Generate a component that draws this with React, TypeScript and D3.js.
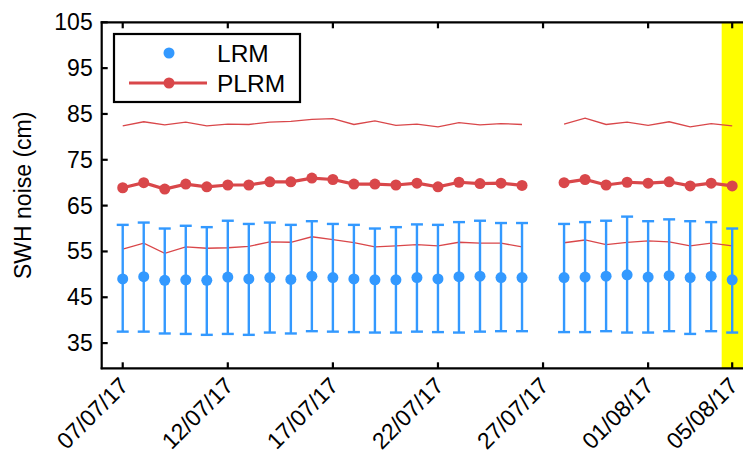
import React from "react";
import * as d3 from "d3";

const dates: string[] = [
  "2017-07-07","2017-07-08","2017-07-09","2017-07-10","2017-07-11","2017-07-12","2017-07-13","2017-07-14","2017-07-15","2017-07-16",
  "2017-07-17","2017-07-18","2017-07-19","2017-07-20","2017-07-21","2017-07-22","2017-07-23","2017-07-24","2017-07-25","2017-07-26",
  "2017-07-27","2017-07-28","2017-07-29","2017-07-30","2017-07-31","2017-08-01","2017-08-02","2017-08-03","2017-08-04","2017-08-05",
];
const lrmMean: (number | null)[] = [49.0,49.5,48.7,48.8,48.7,49.4,49.0,49.3,48.9,49.6,49.3,49.0,48.8,48.8,49.3,49.0,49.5,49.6,49.3,49.3,null,49.3,49.4,49.6,49.9,49.4,49.7,49.3,49.6,48.8];
const lrmUpper: (number | null)[] = [60.8,61.3,60.0,60.6,60.3,61.7,61.0,61.3,60.8,61.6,61.0,60.8,60.0,60.3,60.9,60.8,61.4,61.7,61.2,61.2,null,61.0,61.4,61.7,62.6,61.6,62.0,61.6,61.4,60.0];
const lrmLower: (number | null)[] = [37.5,37.5,37.1,37.0,36.8,37.0,36.8,37.3,37.1,37.6,37.5,37.4,37.3,37.3,37.5,37.4,37.3,37.5,37.6,37.6,null,37.4,37.4,37.6,37.3,37.3,37.6,37.0,37.6,37.3];
const plrmMean: (number | null)[] = [68.9,70.0,68.6,69.7,69.1,69.5,69.5,70.2,70.2,71.0,70.7,69.7,69.7,69.5,69.9,69.1,70.1,69.8,69.9,69.4,null,70.0,70.7,69.5,70.1,69.9,70.2,69.3,69.9,69.3];
const plrmUpper: (number | null)[] = [82.4,83.3,82.6,83.2,82.4,82.8,82.7,83.2,83.4,83.8,84.0,82.7,83.5,82.5,82.8,82.2,83.1,82.6,82.9,82.7,null,82.8,84.1,82.7,83.2,82.5,83.3,82.2,82.9,82.4];
const plrmLower: (number | null)[] = [55.5,56.8,54.6,56.0,55.7,55.8,56.1,57.1,57.0,58.2,57.6,56.9,56.0,56.2,56.5,56.2,57.0,56.8,56.8,56.0,null,56.9,57.5,56.5,57.0,57.3,57.1,56.2,56.8,56.2];

const xTickDates: string[] = ["2017-07-07","2017-07-12","2017-07-17","2017-07-22","2017-07-27","2017-08-01","2017-08-05"];
const yTicks: number[] = [35,45,55,65,75,85,95,105];
const xDomain: string[] = ["2017-07-06T00:00:00Z","2017-08-05T12:00:00Z"];
const yDomain: number[] = [29.5,105];
const highlightStart = "2017-08-04T12:00:00Z";
const legendLabels: string[] = ["LRM","PLRM"];

const W = 743, H = 453;
const L = 101.7, R = 742.7, T = 22.3, B = 368.3;
const BLUE = "#3399ff", RED = "#d9474a";
const FONT = "'Liberation Sans', Arial, Helvetica, sans-serif";

const parse = (s: string) => new Date(s.length === 10 ? s + "T00:00:00Z" : s);
const fmt = d3.utcFormat("%d/%m/%y");

export default function App() {
  const x = d3.scaleUtc().domain([parse(xDomain[0]), parse(xDomain[1])]).range([L, R]);
  const y = d3.scaleLinear().domain(yDomain).range([B, T]);
  const idx = dates.map((_, i) => i);
  const mk = (arr: (number | null)[]) =>
    d3.line<number>()
      .defined((i) => arr[i] != null)
      .x((i) => x(parse(dates[i])))
      .y((i) => y(arr[i] as number))(idx) || "";

  return (
    <svg width={W} height={H} style={{ position: "absolute", left: 0, top: 0, display: "block", background: "#fff" }} fontFamily={FONT}>
      <rect x={x(parse(highlightStart))} y={T} width={W - x(parse(highlightStart))} height={B - T} fill="#ffff00" />
      <path d={mk(plrmUpper)} fill="none" stroke={RED} strokeWidth={1.3} />
      <path d={mk(plrmLower)} fill="none" stroke={RED} strokeWidth={1.3} />
      {idx.filter((i) => lrmMean[i] != null).map((i) => {
        const cx = x(parse(dates[i]));
        return (
          <g key={"e" + i} stroke={BLUE} strokeWidth={2.4}>
            <line x1={cx} x2={cx} y1={y(lrmLower[i] as number)} y2={y(lrmUpper[i] as number)} />
            <line x1={cx - 6} x2={cx + 6} y1={y(lrmLower[i] as number)} y2={y(lrmLower[i] as number)} />
            <line x1={cx - 6} x2={cx + 6} y1={y(lrmUpper[i] as number)} y2={y(lrmUpper[i] as number)} />
          </g>
        );
      })}
      {idx.filter((i) => lrmMean[i] != null).map((i) => (
        <circle key={"b" + i} cx={x(parse(dates[i]))} cy={y(lrmMean[i] as number)} r={5.5} fill={BLUE} />
      ))}
      <path d={mk(plrmMean)} fill="none" stroke={RED} strokeWidth={3.2} />
      {idx.filter((i) => plrmMean[i] != null).map((i) => (
        <circle key={"r" + i} cx={x(parse(dates[i]))} cy={y(plrmMean[i] as number)} r={5.5} fill={RED} />
      ))}

      {/* axes */}
      <g stroke="#000" strokeWidth={2.2} fill="none">
        <line x1={L} x2={L} y1={T - 1} y2={B + 1} />
        <line x1={L - 1} x2={W} y1={B} y2={B} />
        <line x1={L - 1} x2={W} y1={T} y2={T} />
        {yTicks.map((t) => (
          <line key={"yt" + t} x1={L} x2={L + 6} y1={y(t)} y2={y(t)} />
        ))}
        {xTickDates.map((d) => (
          <g key={"xt" + d}>
            <line x1={x(parse(d))} x2={x(parse(d))} y1={B} y2={B - 6} />
            <line x1={x(parse(d))} x2={x(parse(d))} y1={T} y2={T + 6} />
          </g>
        ))}
      </g>
      {yTicks.map((t) => (
        <text key={"yl" + t} x={L - 9} y={y(t)} dy="0.35em" textAnchor="end" fontSize={23} fill="#000">{t}</text>
      ))}
      {xTickDates.map((d) => {
        const px = x(parse(d));
        return (
          <text key={"xl" + d} transform={`translate(${px + 7},${B + 19}) rotate(-45)`} textAnchor="end" fontSize={23} fill="#000">
            {fmt(parse(d))}
          </text>
        );
      })}
      <text transform={`translate(31,${(T + B) / 2}) rotate(-90)`} textAnchor="middle" fontSize={23} fill="#000">SWH noise (cm)</text>

      {/* legend */}
      <rect x={114} y={34} width={186} height={68} fill="#fff" stroke="#000" strokeWidth={2.2} />
      <circle cx={169} cy={53} r={5.5} fill={BLUE} />
      <text x={217} y={53} dy="0.36em" fontSize={24.5} fill="#000">{legendLabels[0]}</text>
      <line x1={129} x2={207} y1={83} y2={83} stroke={RED} strokeWidth={3.2} />
      <circle cx={169} cy={83} r={5.5} fill={RED} />
      <text x={217} y={83} dy="0.36em" fontSize={24.5} fill="#000">{legendLabels[1]}</text>
    </svg>
  );
}
